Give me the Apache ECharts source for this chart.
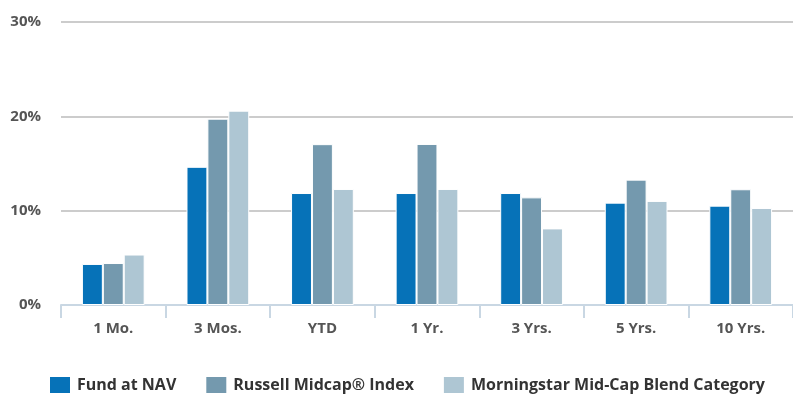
<!DOCTYPE html>
<html>
<head>
<meta charset="utf-8">
<script src="https://cdn.jsdelivr.net/npm/echarts@6/dist/echarts.min.js"></script>
<style>
  html, body { margin: 0; padding: 0; background: #fff; }
  #chart { width: 793px; height: 394px; }
</style>
</head>
<body>
<div id="chart"></div>
<script>
// Average annual total returns by period
const periods = ['1 Mo.', '3 Mos.', 'YTD', '1 Yr.', '3 Yrs.', '5 Yrs.', '10 Yrs.'];
const fundNav = [4.35, 14.65, 11.87, 11.87, 11.87, 10.85, 10.53];
const russellMidcap = [4.45, 19.75, 17.05, 17.07, 11.41, 13.29, 12.27];
const morningstarBlend = [5.35, 20.6, 12.3, 12.3, 8.12, 11.03, 10.28];
const yTicks = [0, 10, 20, 30];

const seriesNames = ['Fund at NAV', 'Russell Midcap\u00ae Index', 'Morningstar Mid-Cap Blend Category'];
const seriesColors = ['#0672b8', '#7499ae', '#aec6d3'];
const seriesValues = [fundNav, russellMidcap, morningstarBlend];

const font = '"Open Sans", "DejaVu Sans", sans-serif';
const chart = echarts.init(document.getElementById('chart'), null, { renderer: 'canvas' });

chart.setOption({
  animation: false,
  textStyle: { fontFamily: font },
  grid: { left: 61, right: 0, top: 22, bottom: 89, containLabel: false },
  legend: {
    left: 48,
    top: 375,
    padding: 0,
    itemWidth: 22,
    itemHeight: 18,
    itemGap: 28,
    icon: 'rect',
    textStyle: { fontFamily: font, fontSize: 16, fontWeight: 'bold', color: '#333', lineHeight: 18, padding: [0, 0, 0, 1] },
    data: seriesNames
  },
  xAxis: {
    type: 'category',
    data: periods,
    axisLine: { lineStyle: { color: '#c9d7e3', width: 2 } },
    axisTick: { show: true, interval: 0, length: 13, lineStyle: { color: '#c9d7e3', width: 2 } },
    axisLabel: { fontFamily: font, fontSize: 15, fontWeight: 'bold', color: '#555', margin: 16 }
  },
  yAxis: {
    type: 'value',
    min: yTicks[0],
    max: yTicks[yTicks.length - 1],
    interval: 10,
    axisLine: { show: false },
    axisTick: { show: false },
    axisLabel: { formatter: '{value}%', fontFamily: font, fontSize: 15, fontWeight: 'bold', color: '#555', margin: 20 },
    splitLine: { lineStyle: { color: '#cccccc', width: 2 } }
  },
  series: seriesValues.map((vals, i) => ({
    name: seriesNames[i],
    type: 'bar',
    data: vals,
    barGap: '0%',
    barCategoryGap: '40%',
    itemStyle: { color: seriesColors[i], borderColor: '#ffffff', borderWidth: 1 }
  }))
});
</script>
</body>
</html>
